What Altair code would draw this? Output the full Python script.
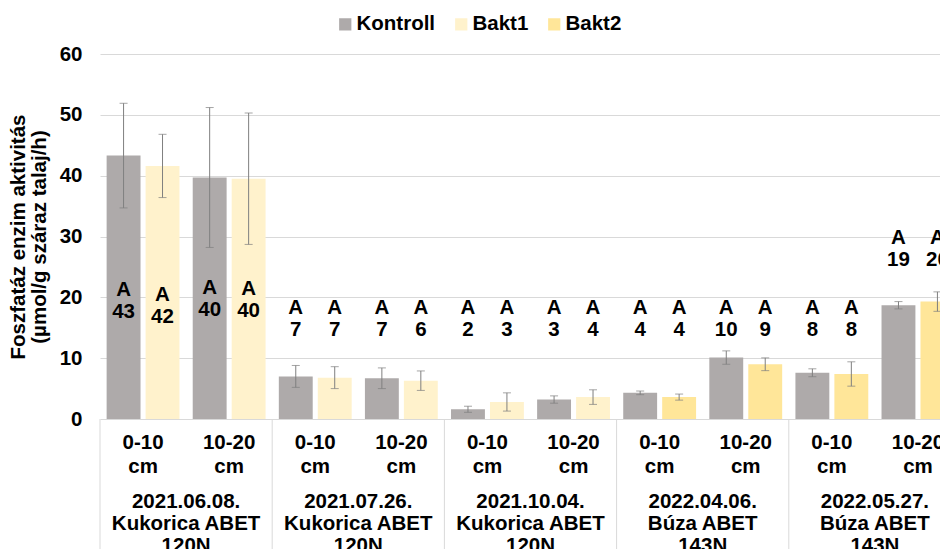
import altair as alt
import pandas as pd

# ---- data ----
dates = ["2021.06.08.", "2021.07.26.", "2021.10.04.", "2022.04.06.", "2022.05.27."]
crops = ["Kukorica ABET", "Kukorica ABET", "Kukorica ABET", "Búza ABET", "Búza ABET"]
nitrogen = ["120N", "120N", "120N", "143N", "143N"]
depths = ["0-10", "10-20"]
second_series = ["Bakt1", "Bakt1", "Bakt1", "Bakt2", "Bakt2"]

series = ["Kontroll", "Bakt1", "Bakt2"]
colors = ["#AEAAAA", "#FFF2CC", "#FFE699"]

kontroll_mean = [43.3, 39.7, 7.0, 6.7, 1.6, 3.2, 4.3, 10.1, 7.6, 18.7]
kontroll_err = [8.6, 11.5, 1.8, 1.7, 0.5, 0.6, 0.3, 1.1, 0.65, 0.6]
kontroll_letter = ["A", "A", "A", "A", "A", "A", "A", "A", "A", "A"]
kontroll_label = ["43", "40", "7", "7", "2", "3", "4", "10", "8", "19"]
kontroll_label_y = [21.2, 21.5, 18.2, 18.2, 18.2, 18.2, 18.2, 18.2, 18.2, 29.8]

bakt_mean = [41.6, 39.5, 6.8, 6.3, 2.8, 3.6, 3.6, 9.0, 7.4, 19.3]
bakt_err = [5.2, 10.8, 1.8, 1.6, 1.5, 1.2, 0.5, 1.05, 2.0, 1.6]
bakt_letter = ["A", "A", "A", "A", "A", "A", "A", "A", "A", "A"]
bakt_label = ["42", "40", "7", "6", "3", "4", "4", "9", "8", "20"]
bakt_label_y = [20.4, 21.4, 18.2, 18.2, 18.2, 18.2, 18.2, 18.2, 18.2, 29.8]

y_ticks = [0, 10, 20, 30, 40, 50, 60]
y_title = ["Foszfatáz enzim aktivitás", "(µmol/g száraz talaj/h)"]

# ---- tables ----
cat_order = [f"{d}|{dep}" for d in dates for dep in depths]
rows = []
depth_rows = []
for i, d in enumerate(dates):
    for j, dep in enumerate(depths):
        k = i * 2 + j
        cat = f"{d}|{dep}"
        rows.append(dict(cat=cat, slot="a", series="Kontroll", mean=kontroll_mean[k],
                         lo=kontroll_mean[k] - kontroll_err[k], hi=kontroll_mean[k] + kontroll_err[k],
                         label=f"{kontroll_letter[k]}\n{kontroll_label[k]}", ly=kontroll_label_y[k]))
        rows.append(dict(cat=cat, slot="b", series=second_series[i], mean=bakt_mean[k],
                         lo=bakt_mean[k] - bakt_err[k], hi=bakt_mean[k] + bakt_err[k],
                         label=f"{bakt_letter[k]}\n{bakt_label[k]}", ly=bakt_label_y[k]))
        depth_rows.append(dict(cat=cat, text=f"{dep}\ncm"))
df = pd.DataFrame(rows)
depth_df = pd.DataFrame(depth_rows)
date_df = pd.DataFrame([dict(cat=f"{d}|{depths[0]}", text=f"{d}\n{c}\n{n}")
                        for d, c, n in zip(dates, crops, nitrogen)])

W, H = 861, 365
FONT = "Liberation Sans"
FS = 20.5
GRID = "#D9D9D9"
ERR = "#7F7F7F"

xscale = alt.Scale(domain=cat_order, paddingInner=0, paddingOuter=0)
x_enc = alt.X("cat:N", scale=xscale, axis=None, sort=cat_order)
xo_enc = alt.XOffset("slot:N", scale=alt.Scale(domain=["a", "b"], paddingInner=0.13, paddingOuter=0.17))
yscale = alt.Scale(domain=[0, 60], nice=False)
y_axis = alt.Axis(values=y_ticks, grid=True, gridColor=GRID, gridWidth=1,
                  domain=False, ticks=False,
                  labelFont=FONT, labelFontSize=FS, labelFontWeight="bold",
                  labelColor="black", labelPadding=18,
                  title=y_title, titleFont=FONT, titleFontSize=FS,
                  titleFontWeight="bold", titleColor="black",
                  titlePadding=10, titleLineHeight=21)

base = alt.Chart(df)

bars = base.mark_bar().encode(
    x=x_enc,
    xOffset=xo_enc,
    y=alt.Y("mean:Q", scale=yscale, axis=y_axis),
    color=alt.Color("series:N", scale=alt.Scale(domain=series, range=colors),
                    legend=alt.Legend(orient="none", legendX=235, legendY=-40,
                                      direction="horizontal", title=None,
                                      symbolType="square", symbolSize=150,
                                      symbolStrokeWidth=0,
                                      labelFont=FONT, labelFontSize=FS,
                                      labelFontWeight="bold", labelColor="black",
                                      labelOffset=1, columnPadding=15)),
)

err_rule = base.mark_rule(color=ERR, strokeWidth=1).encode(
    x=x_enc, xOffset=xo_enc,
    y=alt.Y("lo:Q", scale=yscale, axis=y_axis), y2="hi:Q",
)
cap_lo = base.mark_tick(color=ERR, thickness=1, size=8, orient="horizontal").encode(
    x=x_enc, xOffset=xo_enc, y=alt.Y("lo:Q", scale=yscale, axis=y_axis),
)
cap_hi = base.mark_tick(color=ERR, thickness=1, size=8, orient="horizontal").encode(
    x=x_enc, xOffset=xo_enc, y=alt.Y("hi:Q", scale=yscale, axis=y_axis),
)

labels = base.mark_text(lineBreak="\n", lineHeight=22, baseline="middle",
                        font=FONT, fontSize=FS, fontWeight="bold", color="black").encode(
    x=x_enc, xOffset=xo_enc,
    y=alt.Y("ly:Q", scale=yscale, axis=y_axis),
    text="label:N",
)

depth_text = alt.Chart(depth_df).mark_text(lineBreak="\n", lineHeight=24, baseline="middle",
                                           font=FONT, fontSize=FS, fontWeight="bold",
                                           color="black").encode(
    x=x_enc, y=alt.value(H + 24), text="text:N",
)

date_text = alt.Chart(date_df).mark_text(lineBreak="\n", lineHeight=22, baseline="middle",
                                         font=FONT, fontSize=FS, fontWeight="bold",
                                         color="black", dx=W / 20).encode(
    x=x_enc, y=alt.value(H + 83), text="text:N",
)

separators = alt.Chart(date_df).mark_rule(color=GRID, strokeWidth=1).encode(
    x=alt.X("cat:N", scale=xscale, axis=None, sort=cat_order, bandPosition=0),
    y=alt.value(H), y2=alt.value(H + 160),
)

chart = alt.layer(bars, err_rule, cap_lo, cap_hi, labels, separators, depth_text, date_text).properties(
    width=W, height=H,
    background="white",
    autosize=alt.AutoSizeParams(type="none"),
    padding={"left": 92, "top": 46, "right": -21, "bottom": 130},
).configure_view(stroke=None)

chart.save("out.html", embed_options={"renderer": "svg", "actions": False})
